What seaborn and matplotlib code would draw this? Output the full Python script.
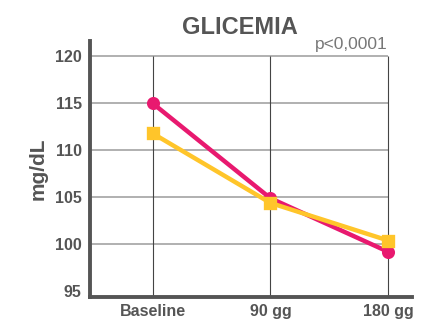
import matplotlib
matplotlib.use("Agg")
import matplotlib.pyplot as plt
import seaborn as sns
import pandas as pd

# Values
doses = ["Baseline", "90 gg", "180 gg"]
group_a = [115.0, 104.9, 99.2]   # pink, circles
group_b = [111.8, 104.4, 100.4]  # yellow, squares
y_ticks = [95, 100, 105, 110, 115, 120]

df = pd.DataFrame({
    "dose": doses * 2,
    "value": group_a + group_b,
    "group": ["A"] * 3 + ["B"] * 3,
})

sns.set_style("white")
plt.rcParams["font.family"] = ["Liberation Sans", "DejaVu Sans"]

grey = "#555555"
fig = plt.figure(figsize=(4.25, 3.19), dpi=100)
ax = fig.add_axes([0.212, 0.069, 0.757, 0.802])

ymin, ymax = 94.4, 121.6
# background grid: a box of lines ending at the last category / top tick
for y in y_ticks[1:]:
    ax.hlines(y, -0.53, 2, color="#aaaaaa", lw=1.3, zorder=1)
ax.vlines(range(len(doses)), ymin, y_ticks[-1], color="#444444", lw=0.8, zorder=1)

sns.pointplot(data=df, x="dose", y="value", hue="group", order=doses,
              palette={"A": "#E8196F", "B": "#FFC52A"}, markers=["o", "s"],
              linestyles="-", markersize=7, linewidth=3.2, errorbar=None,
              legend=False, ax=ax, zorder=3)

ax.set_xlim(-0.53, 2.2)
ax.set_ylim(ymin, ymax)
ax.set_yticks(y_ticks)
ax.set_yticklabels([str(t) for t in y_ticks], fontsize=11.5,
                   fontweight="bold", color=grey)
ax.set_xticks(range(len(doses)))
ax.set_xticklabels(doses, fontsize=11.5, fontweight="bold", color=grey)
ax.tick_params(length=0, pad=6)
ax.tick_params(axis="x", pad=5)
ax.set_xlabel("")
ax.set_ylabel("mg/dL", fontsize=15, fontweight="bold", color=grey, labelpad=5)

for side in ["top", "right"]:
    ax.spines[side].set_visible(False)
for side in ["left", "bottom"]:
    ax.spines[side].set_color(grey)
    ax.spines[side].set_linewidth(2.8)

fig.text(0.565, 0.915, "GLICEMIA", ha="center", va="center",
         fontsize=17, fontweight="bold", color=grey)
fig.text(0.913, 0.862, "p<0,0001", ha="right", va="center",
         fontsize=12.5, color="#777777")

fig.savefig("out.png", dpi=100)
